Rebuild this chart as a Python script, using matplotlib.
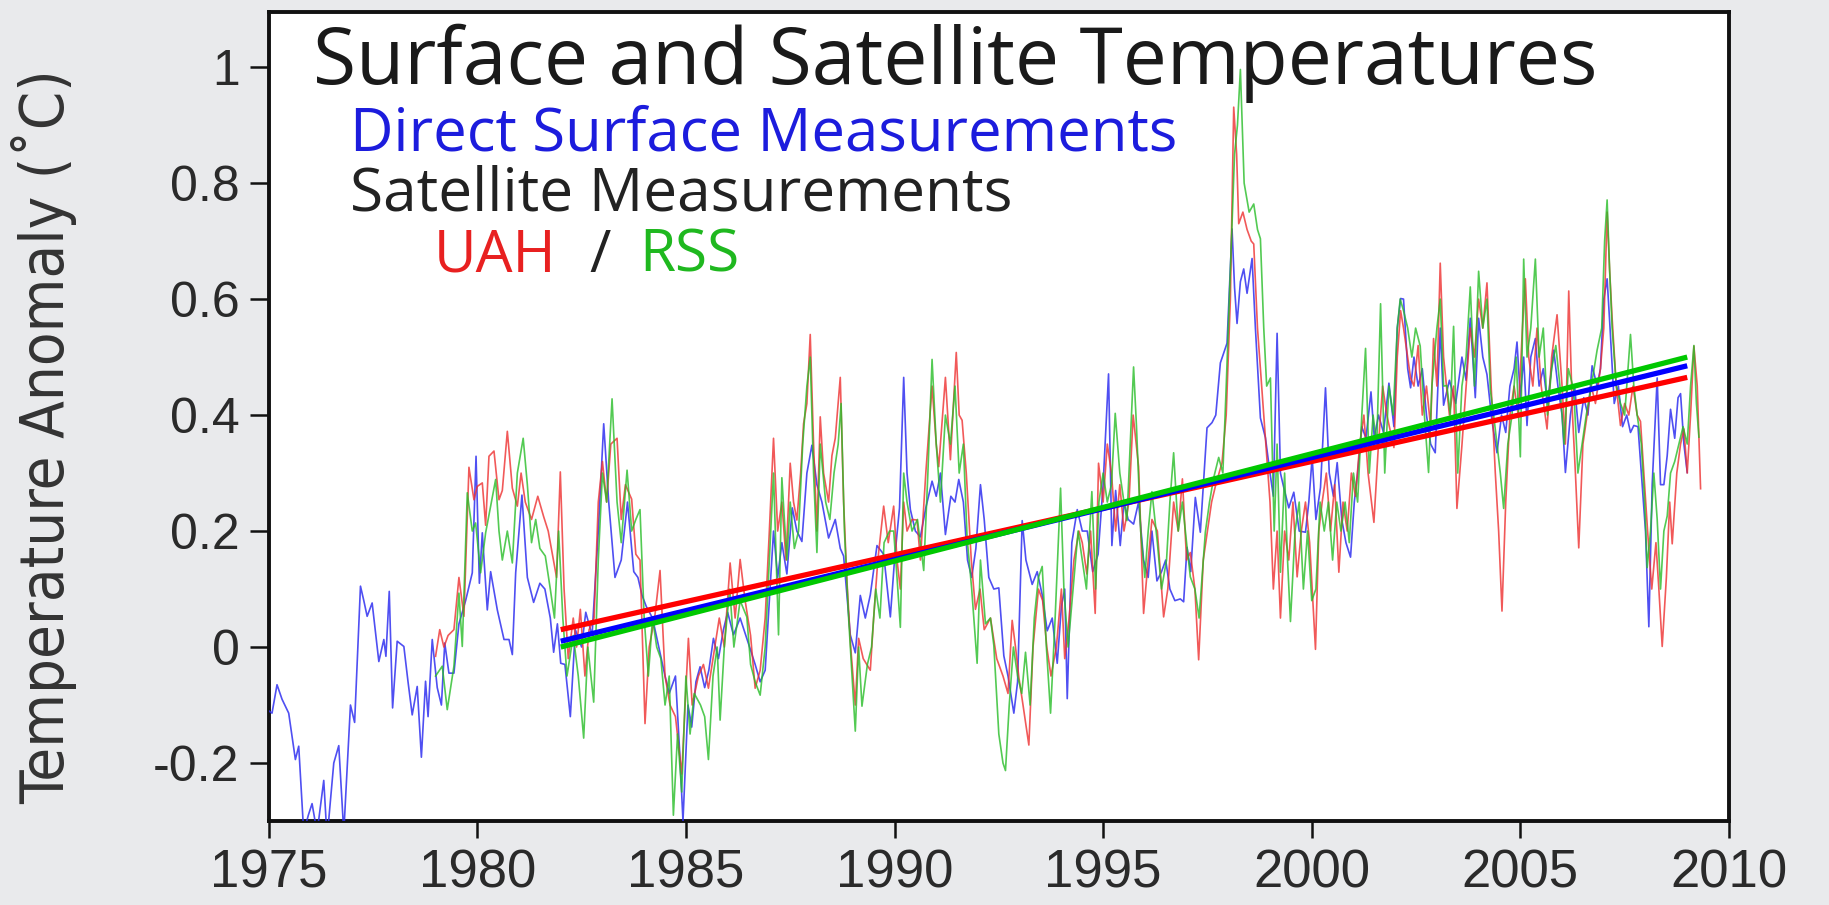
import matplotlib
matplotlib.use("Agg")
import matplotlib.pyplot as plt
from matplotlib import font_manager
from matplotlib.font_manager import FontProperties

# ---------------- data ----------------
surface_years = [1975.00, 1975.08, 1975.2, 1975.32, 1975.48, 1975.64, 1975.72, 1975.84, 1975.95, 1976.04,
                 1976.16, 1976.32, 1976.4, 1976.56, 1976.68, 1976.8, 1976.96, 1977.06, 1977.2, 1977.28,
                 1977.36, 1977.48, 1977.64, 1977.76, 1977.81, 1977.89, 1977.97, 1978.08, 1978.24, 1978.34,
                 1978.44, 1978.56, 1978.66, 1978.76, 1978.82, 1978.92, 1979.04, 1979.14, 1979.22, 1979.32,
                 1979.44, 1979.56, 1979.72, 1979.88, 1979.97, 1980.05, 1980.12, 1980.24, 1980.32, 1980.48,
                 1980.64, 1980.76, 1980.84, 1980.92, 1981.0, 1981.07, 1981.2, 1981.35, 1981.5, 1981.62,
                 1981.75, 1981.83, 1981.92, 1982.0, 1982.1, 1982.23, 1982.35, 1982.5, 1982.6, 1982.75,
                 1982.9, 1983.03, 1983.15, 1983.3, 1983.45, 1983.6, 1983.75, 1983.85, 1983.95, 1984.05,
                 1984.2, 1984.35, 1984.5, 1984.6, 1984.75, 1984.85, 1984.93, 1985.05, 1985.14, 1985.24,
                 1985.34, 1985.45, 1985.55, 1985.66, 1985.78, 1985.9, 1986.0, 1986.14, 1986.3, 1986.46,
                 1986.54, 1986.66, 1986.78, 1986.9, 1987.0, 1987.1, 1987.2, 1987.3, 1987.42, 1987.55,
                 1987.66, 1987.78, 1987.9, 1988.02, 1988.14, 1988.26, 1988.42, 1988.58, 1988.7, 1988.78,
                 1988.94, 1989.06, 1989.18, 1989.3, 1989.42, 1989.58, 1989.74, 1989.9, 1990.0, 1990.12,
                 1990.22, 1990.3, 1990.38, 1990.5, 1990.62, 1990.75, 1990.9, 1991.0, 1991.1, 1991.22,
                 1991.35, 1991.45, 1991.54, 1991.65, 1991.75, 1991.85, 1991.95, 1992.06, 1992.15, 1992.26,
                 1992.38, 1992.5, 1992.62, 1992.72, 1992.86, 1992.95, 1993.06, 1993.15, 1993.3, 1993.42,
                 1993.54, 1993.66, 1993.78, 1993.9, 1994.0, 1994.08, 1994.14, 1994.25, 1994.38, 1994.5,
                 1994.62, 1994.75, 1994.88, 1995.0, 1995.13, 1995.21, 1995.3, 1995.41, 1995.5, 1995.6,
                 1995.73, 1995.85, 1995.97, 1996.08, 1996.17, 1996.29, 1996.4, 1996.5, 1996.6, 1996.72,
                 1996.85, 1996.93, 1997.01, 1997.1, 1997.21, 1997.33, 1997.49, 1997.61, 1997.7, 1997.81,
                 1997.97, 1998.09, 1998.15, 1998.21, 1998.29, 1998.37, 1998.45, 1998.57, 1998.65, 1998.77,
                 1998.89, 1999.0, 1999.08, 1999.17, 1999.25, 1999.33, 1999.45, 1999.57, 1999.7, 1999.85,
                 1999.93, 2000.01, 2000.1, 2000.21, 2000.33, 2000.42, 2000.52, 2000.61, 2000.72, 2000.82,
                 2000.93, 2001.02, 2001.1, 2001.2, 2001.3, 2001.42, 2001.5, 2001.6, 2001.72, 2001.85,
                 2001.97, 2002.05, 2002.13, 2002.2, 2002.3, 2002.37, 2002.45, 2002.55, 2002.65, 2002.75,
                 2002.85, 2002.96, 2003.08, 2003.16, 2003.3, 2003.45, 2003.6, 2003.7, 2003.8, 2003.92,
                 2004.0, 2004.1, 2004.2, 2004.32, 2004.44, 2004.55, 2004.65, 2004.75, 2004.85, 2004.92,
                 2005.0, 2005.08, 2005.16, 2005.25, 2005.36, 2005.45, 2005.55, 2005.65, 2005.8, 2005.9,
                 2006.0, 2006.08, 2006.2, 2006.3, 2006.4, 2006.52, 2006.62, 2006.72, 2006.84, 2006.92,
                 2007.0, 2007.08, 2007.15, 2007.25, 2007.35, 2007.45, 2007.55, 2007.64, 2007.72, 2007.82,
                 2007.9, 2008.0, 2008.08, 2008.16, 2008.28, 2008.36, 2008.44, 2008.52, 2008.6, 2008.7,
                 2008.78, 2008.84, 2008.92, 2009.0]
surface_vals = [-0.11, -0.114, -0.065, -0.09, -0.114, -0.194, -0.171, -0.32, -0.29, -0.27,
                -0.32, -0.23, -0.33, -0.2, -0.17, -0.32, -0.10, -0.13, 0.105, 0.08,
                0.053, 0.076, -0.025, 0.013, -0.016, 0.096, -0.105, 0.01, 0.001, -0.06,
                -0.117, -0.068, -0.19, -0.059, -0.12, 0.013, -0.07, -0.10, 0.007, -0.045,
                -0.045, 0.04, 0.08, 0.128, 0.329, 0.11, 0.197, 0.064, 0.13, 0.064,
                0.013, 0.013, -0.013, 0.128, 0.20, 0.262, 0.12, 0.077, 0.11, 0.10,
                0.05, -0.009, 0.04, -0.028, -0.03, -0.12, 0.03, 0.0, 0.06, 0.02,
                0.2, 0.385, 0.25, 0.12, 0.15, 0.25, 0.13, 0.12, 0.089, 0.07,
                0.05, 0.0, -0.05, -0.08, -0.05, -0.18, -0.30, -0.1, -0.138, -0.06,
                -0.034, -0.07, -0.04, 0.015, -0.02, 0.03, 0.06, 0.021, 0.05, 0.015,
                -0.003, -0.03, -0.06, -0.04, 0.08, 0.2, 0.12, 0.18, 0.126, 0.24,
                0.2, 0.182, 0.30, 0.348, 0.28, 0.25, 0.188, 0.22, 0.17, 0.157,
                0.021, -0.01, 0.089, 0.05, 0.09, 0.175, 0.16, 0.052, 0.15, 0.24,
                0.465, 0.30, 0.237, 0.20, 0.19, 0.24, 0.286, 0.26, 0.30, 0.194,
                0.26, 0.25, 0.289, 0.25, 0.15, 0.12, 0.17, 0.28, 0.22, 0.12,
                0.10, 0.102, -0.015, -0.05, -0.114, -0.06, 0.218, 0.15, 0.108, 0.13,
                0.09, 0.028, 0.05, -0.028, 0.07, 0.10, -0.089, 0.18, 0.237, 0.20,
                0.20, 0.13, 0.16, 0.28, 0.471, 0.175, 0.27, 0.175, 0.25, 0.22,
                0.212, 0.25, 0.15, 0.12, 0.20, 0.114, 0.13, 0.15, 0.10, 0.08,
                0.083, 0.078, 0.172, 0.13, 0.258, 0.198, 0.378, 0.387, 0.40, 0.49,
                0.524, 0.721, 0.62, 0.558, 0.63, 0.652, 0.61, 0.67, 0.55, 0.395,
                0.361, 0.30, 0.26, 0.541, 0.30, 0.275, 0.24, 0.267, 0.20, 0.198,
                0.25, 0.327, 0.22, 0.275, 0.447, 0.30, 0.26, 0.318, 0.22, 0.18,
                0.155, 0.25, 0.30, 0.38, 0.36, 0.44, 0.36, 0.40, 0.37, 0.455,
                0.38, 0.55, 0.601, 0.60, 0.48, 0.447, 0.50, 0.45, 0.48, 0.40,
                0.35, 0.335, 0.55, 0.417, 0.46, 0.42, 0.50, 0.46, 0.567, 0.43,
                0.567, 0.50, 0.47, 0.39, 0.335, 0.40, 0.37, 0.45, 0.48, 0.526,
                0.43, 0.50, 0.382, 0.50, 0.532, 0.45, 0.48, 0.42, 0.512, 0.45,
                0.40, 0.301, 0.40, 0.45, 0.37, 0.43, 0.40, 0.485, 0.45, 0.48,
                0.60, 0.635, 0.55, 0.42, 0.45, 0.38, 0.40, 0.37, 0.382, 0.38,
                0.30, 0.20, 0.035, 0.28, 0.464, 0.28, 0.28, 0.33, 0.41, 0.36,
                0.43, 0.437, 0.35, 0.301]

uah_years = [1979.0, 1979.1, 1979.2, 1979.3, 1979.44, 1979.56, 1979.68, 1979.8, 1979.92, 1980.0,
             1980.12, 1980.2, 1980.28, 1980.4, 1980.52, 1980.6, 1980.72, 1980.84, 1980.96, 1981.05,
             1981.15, 1981.3, 1981.45, 1981.59, 1981.7, 1981.8, 1981.9, 1981.99, 1982.08, 1982.18,
             1982.3, 1982.38, 1982.47, 1982.58, 1982.68, 1982.8, 1982.9, 1983.0, 1983.1, 1983.2,
             1983.35, 1983.45, 1983.55, 1983.7, 1983.8, 1983.9, 1984.02, 1984.12, 1984.25, 1984.38,
             1984.5, 1984.62, 1984.75, 1984.9, 1985.06, 1985.15, 1985.3, 1985.42, 1985.54, 1985.65,
             1985.8, 1985.92, 1986.06, 1986.18, 1986.3, 1986.42, 1986.55, 1986.66, 1986.78, 1986.9,
             1987.0, 1987.1, 1987.2, 1987.3, 1987.4, 1987.5, 1987.58, 1987.66, 1987.75, 1987.82,
             1987.9, 1987.98, 1988.06, 1988.14, 1988.22, 1988.3, 1988.42, 1988.5, 1988.58, 1988.7,
             1988.78, 1988.86, 1988.95, 1989.06, 1989.14, 1989.25, 1989.42, 1989.5, 1989.6, 1989.74,
             1989.85, 1989.98, 1990.06, 1990.14, 1990.22, 1990.3, 1990.42, 1990.54, 1990.62, 1990.75,
             1990.9, 1991.0, 1991.06, 1991.22, 1991.34, 1991.48, 1991.55, 1991.62, 1991.72, 1991.84,
             1991.94, 1992.05, 1992.15, 1992.3, 1992.45, 1992.6, 1992.72, 1992.82, 1992.9, 1992.98,
             1993.08, 1993.22, 1993.32, 1993.45, 1993.55, 1993.65, 1993.75, 1993.88, 1994.0, 1994.08,
             1994.18, 1994.3, 1994.42, 1994.5, 1994.61, 1994.7, 1994.81, 1994.89, 1995.0, 1995.1,
             1995.2, 1995.3, 1995.4, 1995.5, 1995.62, 1995.72, 1995.85, 1995.97, 1996.08, 1996.17,
             1996.3, 1996.45, 1996.55, 1996.69, 1996.8, 1996.9, 1997.0, 1997.09, 1997.2, 1997.29,
             1997.4, 1997.5, 1997.6, 1997.7, 1997.85, 1997.95, 1998.05, 1998.13, 1998.2, 1998.25,
             1998.35, 1998.45, 1998.55, 1998.61, 1998.7, 1998.8, 1998.9, 1999.0, 1999.08, 1999.17,
             1999.25, 1999.35, 1999.45, 1999.55, 1999.65, 1999.75, 1999.85, 1999.95, 2000.09, 2000.17,
             2000.25, 2000.35, 2000.45, 2000.55, 2000.65, 2000.75, 2000.85, 2000.95, 2001.05, 2001.15,
             2001.25, 2001.35, 2001.49, 2001.6, 2001.7, 2001.8, 2001.97, 2002.05, 2002.13, 2002.2,
             2002.3, 2002.37, 2002.45, 2002.55, 2002.65, 2002.75, 2002.85, 2002.92, 2003.0, 2003.08,
             2003.16, 2003.3, 2003.4, 2003.48, 2003.6, 2003.7, 2003.8, 2003.9, 2004.0, 2004.1,
             2004.2, 2004.3, 2004.4, 2004.48, 2004.56, 2004.65, 2004.75, 2004.85, 2004.95, 2005.05,
             2005.12, 2005.2, 2005.3, 2005.4, 2005.5, 2005.64, 2005.75, 2005.88, 2006.0, 2006.08,
             2006.16, 2006.25, 2006.32, 2006.4, 2006.5, 2006.6, 2006.7, 2006.8, 2006.92, 2007.0,
             2007.08, 2007.14, 2007.2, 2007.3, 2007.4, 2007.5, 2007.6, 2007.7, 2007.8, 2007.88,
             2007.96, 2008.05, 2008.15, 2008.25, 2008.32, 2008.4, 2008.5, 2008.58, 2008.64, 2008.75,
             2008.84, 2008.92, 2009.0, 2009.08, 2009.16, 2009.24, 2009.32]
uah_vals = [-0.016, 0.03, 0.0, 0.02, 0.03, 0.12, 0.053, 0.31, 0.254, 0.277,
            0.283, 0.21, 0.329, 0.338, 0.254, 0.27, 0.372, 0.274, 0.243, 0.30,
            0.25, 0.22, 0.26, 0.225, 0.2, 0.16, 0.12, 0.302, 0.1, -0.02,
            0.05, 0.0, 0.065, -0.05, 0.03, 0.05, 0.25, 0.32, 0.25, 0.35,
            0.36, 0.22, 0.28, 0.255, 0.16, 0.15, -0.132, 0.0, 0.05, 0.132,
            -0.05, -0.10, -0.12, -0.219, 0.015, -0.10, -0.05, -0.03, -0.071, -0.02,
            0.05, 0.0, 0.145, 0.05, 0.151, 0.08, 0.02, -0.071, -0.04, 0.05,
            0.20, 0.36, 0.20, 0.25, 0.15, 0.317, 0.25, 0.219, 0.30, 0.385,
            0.42, 0.539, 0.35, 0.20, 0.397, 0.30, 0.25, 0.33, 0.36, 0.465,
            0.25, 0.114, 0.0, -0.10, 0.015, -0.02, -0.04, 0.05, 0.15, 0.243,
            0.18, 0.243, 0.15, 0.10, 0.25, 0.20, 0.22, 0.219, 0.15, 0.30,
            0.45, 0.35, 0.311, 0.465, 0.323, 0.508, 0.40, 0.391, 0.30, 0.15,
            0.065, 0.10, 0.03, 0.05, -0.02, -0.05, -0.08, 0.046, 0.0, -0.052,
            -0.1, -0.169, 0.0, 0.10, 0.08, 0.0, -0.05, 0.0, 0.10, -0.02,
            0.046, 0.15, 0.20, 0.18, 0.126, 0.20, 0.058, 0.317, 0.25, 0.35,
            0.30, 0.20, 0.28, 0.20, 0.25, 0.40, 0.311, 0.058, 0.15, 0.22,
            0.20, 0.052, 0.10, 0.25, 0.20, 0.29, 0.15, 0.163, 0.10, -0.022,
            0.15, 0.20, 0.25, 0.28, 0.318, 0.40, 0.60, 0.931, 0.85, 0.73,
            0.75, 0.72, 0.70, 0.695, 0.55, 0.45, 0.35, 0.25, 0.10, 0.20,
            0.05, 0.20, 0.15, 0.25, 0.121, 0.20, 0.25, 0.18, -0.004, 0.20,
            0.25, 0.30, 0.20, 0.28, 0.129, 0.25, 0.20, 0.30, 0.26, 0.35,
            0.40, 0.30, 0.215, 0.35, 0.45, 0.40, 0.344, 0.50, 0.58, 0.55,
            0.50, 0.464, 0.45, 0.52, 0.40, 0.45, 0.38, 0.532, 0.45, 0.662,
            0.50, 0.40, 0.45, 0.239, 0.348, 0.45, 0.55, 0.50, 0.60, 0.55,
            0.628, 0.45, 0.30, 0.20, 0.062, 0.25, 0.40, 0.45, 0.40, 0.55,
            0.635, 0.50, 0.45, 0.55, 0.45, 0.376, 0.50, 0.573, 0.45, 0.35,
            0.614, 0.40, 0.30, 0.171, 0.35, 0.40, 0.45, 0.42, 0.48, 0.55,
            0.75, 0.65, 0.567, 0.45, 0.382, 0.42, 0.40, 0.45, 0.40, 0.389,
            0.30, 0.20, 0.10, 0.18, 0.10, 0.001, 0.12, 0.25, 0.178, 0.30,
            0.35, 0.376, 0.30, 0.40, 0.519, 0.45, 0.273]

rss_years = [1979.0, 1979.16, 1979.28, 1979.44, 1979.56, 1979.64, 1979.76, 1979.88, 1979.96, 1980.08,
             1980.2, 1980.32, 1980.44, 1980.52, 1980.6, 1980.72, 1980.84, 1980.96, 1981.1, 1981.2,
             1981.3, 1981.4, 1981.5, 1981.63, 1981.75, 1981.85, 1981.95, 1982.05, 1982.15, 1982.3,
             1982.42, 1982.55, 1982.65, 1982.79, 1982.9, 1983.0, 1983.1, 1983.23, 1983.35, 1983.45,
             1983.59, 1983.7, 1983.8, 1983.9, 1984.0, 1984.1, 1984.2, 1984.3, 1984.4, 1984.5,
             1984.6, 1984.7, 1984.8, 1984.9, 1985.0, 1985.1, 1985.2, 1985.35, 1985.45, 1985.54,
             1985.65, 1985.75, 1985.82, 1985.92, 1986.05, 1986.15, 1986.3, 1986.46, 1986.55, 1986.66,
             1986.78, 1986.9, 1987.0, 1987.1, 1987.22, 1987.3, 1987.42, 1987.5, 1987.6, 1987.7,
             1987.8, 1987.9, 1987.98, 1988.06, 1988.14, 1988.22, 1988.35, 1988.45, 1988.55, 1988.65,
             1988.72, 1988.8, 1988.9, 1989.06, 1989.14, 1989.22, 1989.35, 1989.45, 1989.55, 1989.65,
             1989.75, 1989.88, 1989.98, 1990.06, 1990.14, 1990.22, 1990.3, 1990.42, 1990.55, 1990.7,
             1990.8, 1990.9, 1991.0, 1991.1, 1991.22, 1991.34, 1991.45, 1991.55, 1991.65, 1991.74,
             1991.85, 1991.98, 1992.06, 1992.18, 1992.3, 1992.38, 1992.5, 1992.6, 1992.66, 1992.75,
             1992.85, 1992.95, 1993.05, 1993.14, 1993.25, 1993.35, 1993.45, 1993.54, 1993.64, 1993.74,
             1993.85, 1993.98, 1994.06, 1994.16, 1994.28, 1994.4, 1994.5, 1994.6, 1994.73, 1994.82,
             1994.9, 1995.0, 1995.1, 1995.2, 1995.29, 1995.4, 1995.5, 1995.57, 1995.65, 1995.73,
             1995.8, 1995.9, 1996.0, 1996.08, 1996.17, 1996.3, 1996.4, 1996.52, 1996.6, 1996.69,
             1996.8, 1996.9, 1997.0, 1997.09, 1997.2, 1997.3, 1997.45, 1997.55, 1997.65, 1997.77,
             1997.87, 1997.95, 1998.05, 1998.15, 1998.22, 1998.29, 1998.38, 1998.5, 1998.61, 1998.7,
             1998.77, 1998.85, 1998.92, 1999.01, 1999.1, 1999.17, 1999.25, 1999.35, 1999.42, 1999.49,
             1999.6, 1999.7, 1999.8, 1999.9, 2000.0, 2000.1, 2000.2, 2000.3, 2000.4, 2000.5,
             2000.6, 2000.7, 2000.8, 2000.9, 2001.0, 2001.1, 2001.2, 2001.29, 2001.38, 2001.47,
             2001.56, 2001.65, 2001.75, 2001.85, 2001.95, 2002.05, 2002.12, 2002.2, 2002.3, 2002.4,
             2002.49, 2002.6, 2002.7, 2002.8, 2002.88, 2003.0, 2003.08, 2003.16, 2003.24, 2003.32,
             2003.4, 2003.5, 2003.6, 2003.7, 2003.8, 2003.9, 2004.0, 2004.1, 2004.2, 2004.28,
             2004.36, 2004.44, 2004.52, 2004.6, 2004.7, 2004.8, 2004.9, 2005.0, 2005.08, 2005.16,
             2005.25, 2005.36, 2005.45, 2005.55, 2005.65, 2005.75, 2005.85, 2005.95, 2006.05, 2006.15,
             2006.28, 2006.38, 2006.48, 2006.58, 2006.7, 2006.84, 2006.95, 2007.02, 2007.08, 2007.14,
             2007.2, 2007.3, 2007.4, 2007.5, 2007.64, 2007.72, 2007.8, 2007.9, 2007.98, 2008.04,
             2008.12, 2008.2, 2008.28, 2008.36, 2008.44, 2008.52, 2008.6, 2008.7, 2008.8, 2008.9,
             2009.0, 2009.08, 2009.16, 2009.22, 2009.28]
rss_vals = [-0.05, -0.033, -0.108, -0.033, 0.093, 0.001, 0.266, 0.2, 0.214, 0.128,
            0.197, 0.243, 0.289, 0.20, 0.15, 0.2, 0.145, 0.30, 0.36, 0.28,
            0.18, 0.22, 0.17, 0.157, 0.10, 0.05, 0.20, 0.05, -0.05, 0.02,
            -0.05, -0.157, 0.0, -0.095, 0.15, 0.30, 0.25, 0.428, 0.25, 0.18,
            0.305, 0.20, 0.22, 0.237, 0.05, -0.05, 0.05, 0.0, -0.02, -0.10,
            -0.05, -0.29, -0.15, -0.25, -0.05, -0.15, -0.08, -0.10, -0.12, -0.194,
            -0.05, 0.0, -0.126, 0.0, 0.10, 0.0, 0.08, 0.052, -0.03, -0.06,
            -0.083, 0.0, 0.15, 0.30, 0.021, 0.292, 0.15, 0.25, 0.17, 0.20,
            0.35, 0.45, 0.50, 0.30, 0.163, 0.35, 0.25, 0.22, 0.30, 0.35,
            0.42, 0.20, 0.05, -0.145, 0.0, -0.102, -0.03, 0.0, 0.10, 0.05,
            0.18, 0.20, 0.20, 0.12, 0.034, 0.30, 0.25, 0.20, 0.22, 0.132,
            0.30, 0.496, 0.35, 0.25, 0.40, 0.35, 0.45, 0.30, 0.35, 0.188,
            0.10, -0.028, 0.15, 0.04, 0.05, 0.003, -0.15, -0.20, -0.213, -0.10,
            0.0, -0.05, -0.08, -0.009, -0.10, 0.05, 0.12, 0.139, 0.0, -0.114,
            0.05, 0.274, 0.10, 0.0, 0.10, 0.20, 0.15, 0.10, 0.268, 0.10,
            0.25, 0.30, 0.25, 0.28, 0.403, 0.30, 0.25, 0.218, 0.35, 0.483,
            0.38, 0.20, 0.12, 0.20, 0.268, 0.18, 0.10, 0.15, 0.25, 0.335,
            0.20, 0.25, 0.18, 0.121, 0.10, 0.05, 0.198, 0.25, 0.292, 0.327,
            0.30, 0.45, 0.65, 0.85, 0.90, 0.996, 0.80, 0.75, 0.764, 0.72,
            0.704, 0.55, 0.45, 0.464, 0.20, 0.35, 0.129, 0.30, 0.15, 0.044,
            0.20, 0.25, 0.10, 0.20, 0.08, 0.10, 0.25, 0.20, 0.25, 0.15,
            0.25, 0.20, 0.25, 0.18, 0.30, 0.25, 0.40, 0.515, 0.30, 0.40,
            0.35, 0.592, 0.30, 0.45, 0.40, 0.55, 0.60, 0.58, 0.55, 0.50,
            0.55, 0.519, 0.40, 0.301, 0.45, 0.55, 0.60, 0.45, 0.451, 0.40,
            0.553, 0.30, 0.45, 0.50, 0.621, 0.45, 0.648, 0.55, 0.60, 0.444,
            0.40, 0.35, 0.30, 0.239, 0.35, 0.40, 0.50, 0.328, 0.669, 0.50,
            0.55, 0.669, 0.50, 0.55, 0.40, 0.48, 0.52, 0.45, 0.35, 0.48,
            0.444, 0.30, 0.35, 0.40, 0.45, 0.512, 0.55, 0.70, 0.771, 0.65,
            0.55, 0.45, 0.42, 0.40, 0.539, 0.45, 0.40, 0.35, 0.25, 0.137,
            0.20, 0.30, 0.22, 0.10, 0.20, 0.226, 0.30, 0.32, 0.35, 0.38,
            0.35, 0.45, 0.52, 0.42, 0.362]

trend_years = [1982.0, 2009.0]
uah_trend = [0.03, 0.465]
surface_trend = [0.01, 0.485]
rss_trend = [0.0, 0.50]

x_ticks = [1975, 1980, 1985, 1990, 1995, 2000, 2005, 2010]
y_ticks = [-0.2, 0, 0.2, 0.4, 0.6, 0.8, 1]
y_tick_labels = ["-0.2", "0", "0.2", "0.4", "0.6", "0.8", "1"]

title = "Surface and Satellite Temperatures"
label_surface = "Direct Surface Measurements"
label_satellite = "Satellite Measurements"
y_label = "Temperature Anomaly (\u02daC)"

# ---------------- fonts ----------------
def find_condensed():
    prefs = ["Liberation Sans Narrow", "DejaVu Sans", "Noto Sans", "Roboto", "Open Sans", "Lato", "Inter"]
    cands = []
    for f in font_manager.fontManager.ttflist:
        nm = f.name
        fn = f.fname.lower()
        cond = ("narrow" in nm.lower() or "condensed" in fn or "narrow" in fn
                or str(f.stretch) in ("condensed", "semi-condensed", "extra-condensed"))
        if not cond or f.weight not in (400, "normal", "regular") or f.style != "normal":
            continue
        if "semi" in fn or "extra" in fn:
            continue
        for i, p in enumerate(prefs):
            if nm == p or nm.startswith(p):
                cands.append((i, f.fname))
                break
    if cands:
        cands.sort()
        return FontProperties(fname=cands[0][1])
    return FontProperties(family="Liberation Sans")

ylabel_fp = find_condensed()

# ---------------- figure ----------------
fig = plt.figure(figsize=(18.29, 9.05), dpi=100)
fig.patch.set_facecolor("#e9eaec")
ax = fig.add_axes([0.1469, 0.0928, 0.7984, 0.8939])
ax.set_facecolor("white")

blue_c, red_c, green_c = "#3030f0", "#ee3030", "#28bd28"
ax.plot(surface_years, surface_vals, color=blue_c, lw=1.2, alpha=0.85, zorder=3)
ax.plot(uah_years, uah_vals, color=red_c, lw=1.2, alpha=0.8, zorder=4)
ax.plot(rss_years, rss_vals, color=green_c, lw=1.2, alpha=0.8, zorder=5)

ax.plot(trend_years, uah_trend, color="#ff0000", lw=3.8, solid_capstyle="butt", zorder=6)
ax.plot(trend_years, surface_trend, color="#0000ff", lw=3.8, solid_capstyle="butt", zorder=7)
ax.plot(trend_years, rss_trend, color="#00c800", lw=3.8, solid_capstyle="butt", zorder=8)

ax.set_xlim(1975, 2010)
ax.set_ylim(-0.3, 1.095)
ax.set_xticks(x_ticks)
ax.set_xticklabels([str(t) for t in x_ticks], fontfamily="Liberation Sans", fontsize=38, color="#2a2a2a")
ax.set_yticks(y_ticks)
ax.set_yticklabels(y_tick_labels, fontfamily="Liberation Sans", fontsize=36, color="#2a2a2a")
ax.tick_params(axis="y", direction="out", length=14, width=1.8, pad=7, color="#111111")
ax.tick_params(axis="x", direction="out", length=12, width=1.8, pad=8, color="#111111")
for s in ax.spines.values():
    s.set_linewidth(2.8)
    s.set_color("#111111")

ylab = fig.text(0.024, 0.517, y_label, rotation=90, ha="center", va="center",
                fontproperties=ylabel_fp, fontsize=46, color="#333333")

t_title = ax.text(0.0301, 0.911, title, transform=ax.transAxes, ha="left", va="baseline",
                  fontfamily="Open Sans", fontsize=56, color="#1a1a1a", zorder=1)
t_surf = ax.text(0.0557, 0.829, label_surface, transform=ax.transAxes, ha="left", va="baseline",
                 fontfamily="Open Sans", fontsize=43.5, color="#1c1cdd", zorder=1)
t_sat = ax.text(0.0557, 0.755, label_satellite, transform=ax.transAxes, ha="left", va="baseline",
                fontfamily="Open Sans", fontsize=43.5, color="#222222", zorder=1)
ax.text(0.1133, 0.679, "UAH", transform=ax.transAxes, ha="left", va="baseline",
        fontfamily="Open Sans", fontsize=42, color="#e82020", zorder=1)
ax.text(0.2194, 0.679, "/", transform=ax.transAxes, ha="left", va="baseline",
        fontfamily="Open Sans", fontsize=42, color="#222222", zorder=1)
ax.text(0.2537, 0.679, "RSS", transform=ax.transAxes, ha="left", va="baseline",
        fontfamily="Open Sans", fontsize=42, color="#1fb81f", zorder=1)

# fit text sizes to the measured extents of the reference (pixels)
fig.canvas.draw()
renderer = fig.canvas.get_renderer()
def fit(txt, target, use_height=False):
    bb = txt.get_window_extent(renderer)
    cur = bb.height if use_height else bb.width
    if cur > 0:
        txt.set_fontsize(txt.get_fontsize() * target / cur)
fit(ylab, 735, use_height=True)
fit(t_title, 1285)
fit(t_surf, 826)
fit(t_sat, 663)

fig.savefig("out.png", dpi=100, facecolor=fig.get_facecolor())
